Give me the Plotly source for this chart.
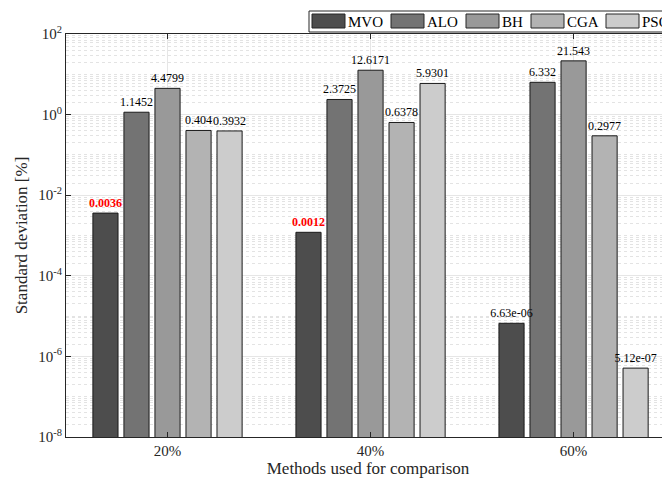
import math
import plotly.graph_objects as go

# ---------------- data ----------------
categories = ["20%", "40%", "60%"]
methods = ["MVO", "ALO", "BH", "CGA", "PSO"]
mvo = [0.0036, 0.0012, 6.63e-06]
alo = [1.1452, 2.3725, 6.332]
bh = [4.4799, 12.6171, 21.543]
cga = [0.404, 0.6378, 0.2977]
pso = [0.3932, 5.9301, 5.12e-07]
series = [mvo, alo, bh, cga, pso]
# labels shown in red bold (best result highlighted in the original)
highlight = [
    [True, True, False],
    [False, False, False],
    [False, False, False],
    [False, False, False],
    [False, False, False],
]
ytick_exponents = [-8, -6, -4, -2, 0, 2]

# ---------------- style ----------------
colors = ["#4d4d4d", "#737373", "#999999", "#b3b3b3", "#cccccc"]
FONT = "Liberation Serif, Times New Roman, serif"
OFF = 8  # page body margin
W, H = 670 - OFF, 483 - OFF
ML, MR, MT, MB = 66 - OFF, 0, 34 - OFF, 483 - 437
PW, PH = W - ML - MR, H - MT - MB


def num2str(v):
    digits = max(math.ceil(math.log10(abs(v))), 1) + 4
    return f"{v:.{digits}g}"


fig = go.Figure()
# bars
for name, vals, col in zip(methods, series, colors):
    fig.add_trace(go.Bar(
        name=name, x=categories, y=vals, offsetgroup=name,
        marker=dict(color=col, line=dict(color="#1a1a1a", width=1)),
        showlegend=False, hoverinfo="x+y+name",
    ))
# value labels, drawn on top of all bars (transparent bars in the same slots)
for name, vals, hl in zip(methods, series, highlight):
    texts = [f"<b>{num2str(v)}</b>" if h else num2str(v) for v, h in zip(vals, hl)]
    tcols = ["#ff0000" if h else "#000000" for h in hl]
    fig.add_trace(go.Bar(
        name=name, x=categories, y=vals, offsetgroup=name,
        marker=dict(color="rgba(0,0,0,0)", line=dict(width=0)),
        text=texts, textposition="outside", texttemplate="%{text}",
        textfont=dict(family=FONT, size=12, color=tcols),
        constraintext="none", cliponaxis=False, showlegend=False, hoverinfo="skip",
    ))

# minor grid values (everything that is not a labelled decade)
minor_vals = []
for e in range(-8, 2):
    for k in range(1, 10):
        if k == 1 and e in ytick_exponents:
            continue
        minor_vals.append(k * 10 ** e)


def px2x(px):
    return (px - OFF - ML) / PW


def py2y(py):
    return 1 - (py - OFF - MT) / PH


# manual legend (wide patches like the original)
shapes = [dict(type="rect", xref="paper", yref="paper",
               x0=px2x(309), x1=px2x(690), y0=py2y(32), y1=py2y(11),
               line=dict(color="#262626", width=1), fillcolor="white", layer="above")]
annotations = []
legend_x = [312, 391, 466, 531, 606]
for name, col, lx in zip(methods, colors, legend_x):
    shapes.append(dict(type="rect", xref="paper", yref="paper",
                       x0=px2x(lx), x1=px2x(lx + 33), y0=py2y(28), y1=py2y(14),
                       line=dict(color="#262626", width=1), fillcolor=col, layer="above"))
    annotations.append(dict(text=name, xref="paper", yref="paper",
                            x=px2x(lx + 34), y=py2y(21.5), xanchor="left", yanchor="middle",
                            showarrow=False, font=dict(family=FONT, size=15, color="#000000")))

fig.update_layout(
    width=W, height=H,
    margin=dict(l=ML, r=MR, t=MT, b=MB, autoexpand=False),
    paper_bgcolor="white", plot_bgcolor="white",
    barmode="group", bargap=0.236, bargroupgap=0.19,
    font=dict(family=FONT, color="#262626"),
    shapes=shapes, annotations=annotations,
    xaxis=dict(
        type="category", range=[-0.5, 2.475],
        showline=True, linecolor="#262626", linewidth=1, mirror="ticks",
        ticks="inside", ticklen=5, tickcolor="#262626",
        showgrid=True, gridcolor="#e6e6e6", gridwidth=1,
        tickfont=dict(family=FONT, size=15, color="#262626"),
        title=dict(text="Methods used for comparison", font=dict(family=FONT, size=17, color="#262626"), standoff=2),
        automargin=False, zeroline=False,
    ),
    yaxis=dict(
        type="log", range=[-8, 2],
        tickvals=[10 ** e for e in ytick_exponents],
        ticktext=[f"10<sup>{e}</sup>" for e in ytick_exponents],
        showline=True, linecolor="#262626", linewidth=1, mirror=False,
        ticks="inside", ticklen=5, tickcolor="#262626",
        showgrid=True, gridcolor="#e6e6e6", gridwidth=1,
        minor=dict(tickvals=minor_vals, showgrid=True, gridcolor="#e3e3e3",
                   griddash="dot", gridwidth=1, ticks=""),
        tickfont=dict(family=FONT, size=15, color="#262626"),
        title=dict(text="Standard deviation [%]", font=dict(family=FONT, size=17, color="#262626"), standoff=6),
        automargin=False, zeroline=False,
    ),
)

fig.write_html("out.html")
